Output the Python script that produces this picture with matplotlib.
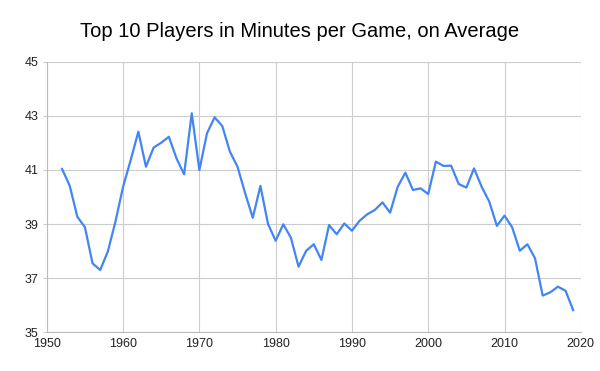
import matplotlib
matplotlib.use("Agg")
import matplotlib.pyplot as plt

years = list(range(1952, 2020))
minutes = [
    41.04, 40.42, 39.27, 38.88, 37.54, 37.30, 37.98, 39.09,  # 1952-1959
    40.38, 41.37, 42.42, 41.12, 41.83, 42.01, 42.23, 41.43, 40.84, 43.10,  # 1960-1969
    41.00, 42.36, 42.95, 42.63, 41.68, 41.12, 40.14, 39.23, 40.41, 39.00,  # 1970-1979
    38.38, 38.99, 38.49, 37.42, 38.01, 38.25, 37.67, 38.96, 38.62, 39.02,  # 1980-1989
    38.75, 39.12, 39.36, 39.52, 39.80, 39.42, 40.38, 40.90, 40.26, 40.32,  # 1990-1999
    40.11, 41.31, 41.15, 41.16, 40.48, 40.35, 41.06, 40.38, 39.83, 38.93,  # 2000-2009
    39.31, 38.88, 38.01, 38.25, 37.73, 36.35, 36.47, 36.68, 36.53, 35.81,  # 2010-2019
]
x_ticks = [1950, 1960, 1970, 1980, 1990, 2000, 2010, 2020]
y_ticks = [35, 37, 39, 41, 43, 45]
title = "Top 10 Players in Minutes per Game, on Average"

plt.rcParams['font.family'] = ['Liberation Sans', 'DejaVu Sans']

fig = plt.figure(figsize=(6.0, 3.71), dpi=100)
ax = fig.add_axes([0.078, 0.105, 0.890, 0.728])
ax.plot(years, minutes, color="#4285F4", linewidth=1.6, solid_joinstyle="round")
ax.set_xlim(1950, 2020)
ax.set_ylim(35, 45)
ax.set_xticks(x_ticks)
ax.set_yticks(y_ticks)
ax.grid(True, color="#cccccc", linewidth=0.8)
ax.set_axisbelow(True)
for s in ["top", "right"]:
    ax.spines[s].set_visible(False)
for s in ["left", "bottom"]:
    ax.spines[s].set_color("#bbbbbb")
    ax.spines[s].set_linewidth(0.8)
ax.tick_params(axis="y", length=3, color="#cccccc", labelsize=9, pad=3, labelcolor="#222222")
ax.tick_params(axis="x", length=0, labelsize=9, pad=4, labelcolor="#222222")
fig.text(0.5, 0.915, title, ha="center", va="center", fontsize=14.5, color="#000000")
fig.savefig("out.png", dpi=100, facecolor="white")
